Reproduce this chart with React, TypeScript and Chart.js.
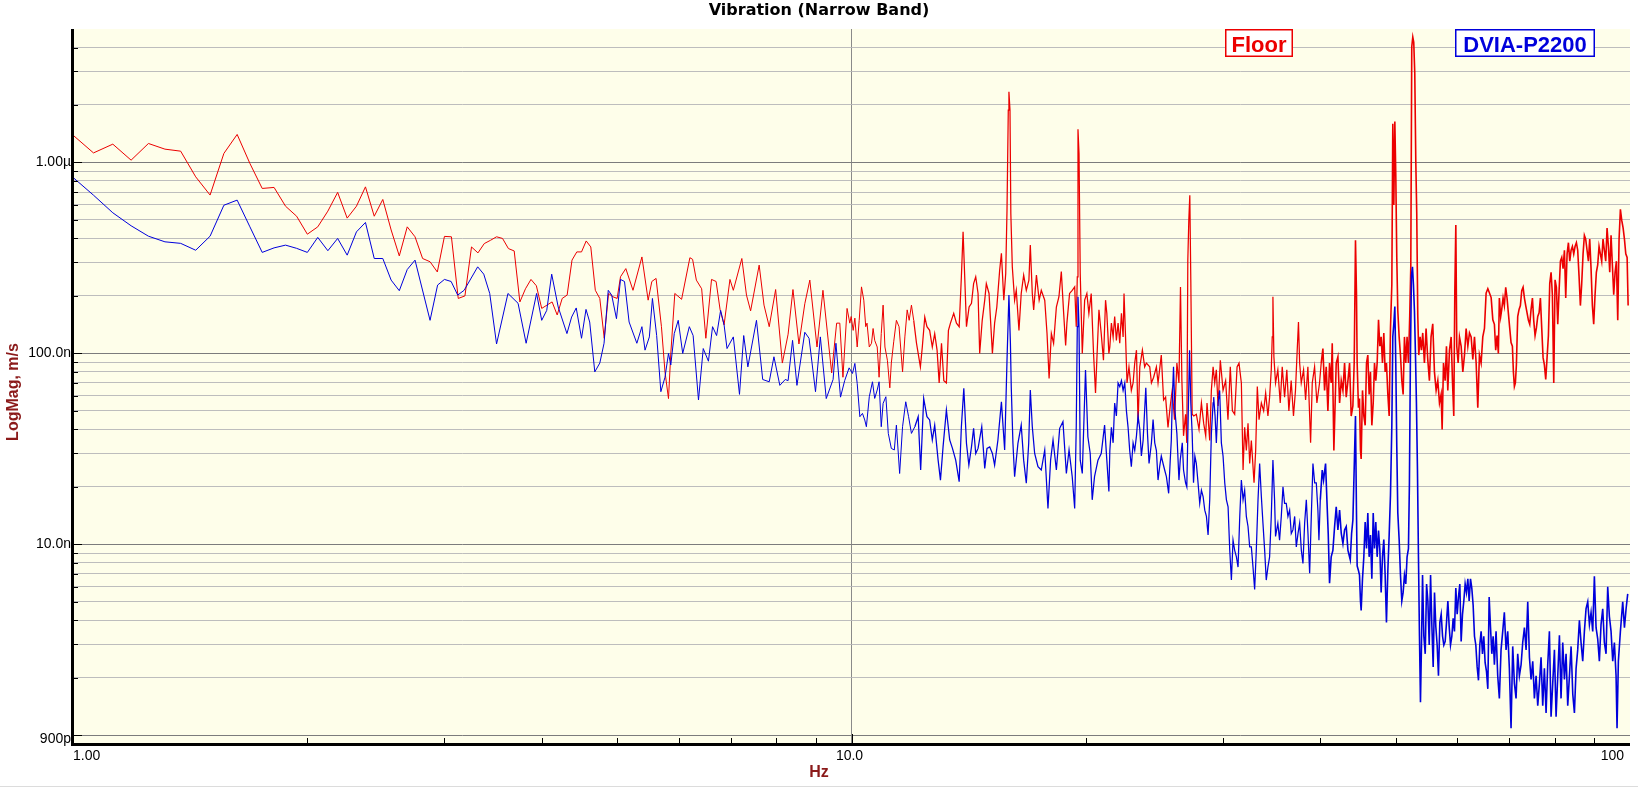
import { useEffect, useRef } from 'react';
import { Chart, registerables } from 'chart.js';

Chart.register(...registerables);

// Floor spectrum: frequency (Hz) and magnitude (nm/s)
const floorHz = [
  1.0, 1.0625, 1.125, 1.1875, 1.25, 1.3125, 1.375, 1.4375, 1.5, 1.5625,
  1.625, 1.6875, 1.75, 1.8125, 1.875, 1.9375, 2.0, 2.0625, 2.125, 2.1875,
  2.25, 2.3125, 2.375, 2.4375, 2.5, 2.5625, 2.625, 2.6875, 2.75, 2.8125,
  2.875, 2.9375, 3.0, 3.0625, 3.125, 3.1875, 3.25, 3.3125, 3.375, 3.4375,
  3.5, 3.5625, 3.625, 3.6875, 3.75, 3.8125, 3.875, 3.9375, 4.0, 4.0625,
  4.125, 4.1875, 4.25, 4.3125, 4.375, 4.4375, 4.5, 4.5625, 4.625, 4.6875,
  4.75, 4.8125, 4.875, 4.9375, 5.0, 5.05, 5.13, 5.24, 5.38, 5.48,
  5.54, 5.61, 5.7, 5.76, 5.82, 5.86, 5.93, 6.05, 6.2, 6.25,
  6.32, 6.42, 6.5, 6.61, 6.7, 6.78, 6.86, 6.98, 7.05, 7.23,
  7.33, 7.42, 7.61, 7.72, 7.84, 7.99, 8.15, 8.29, 8.41, 8.56,
  8.71, 8.84, 9.03, 9.19, 9.43, 9.57, 9.66, 9.75, 9.87, 9.95,
  9.99, 10.05, 10.1, 10.17, 10.23, 10.3, 10.37, 10.43, 10.47, 10.54,
  10.61, 10.66, 10.71, 10.79, 10.85, 10.92, 10.98, 11.04, 11.12, 11.2,
  11.25, 11.33, 11.42, 11.51, 11.63, 11.71, 11.79, 11.86, 11.94, 12.02,
  12.12, 12.26, 12.33, 12.42, 12.5, 12.6, 12.7, 12.79, 12.88, 12.96,
  13.05, 13.14, 13.24, 13.32, 13.4, 13.53, 13.64, 13.75, 13.84, 13.91,
  13.98, 14.05, 14.16, 14.26, 14.35, 14.44, 14.54, 14.61, 14.72, 14.83,
  14.9, 15.02, 15.17, 15.27, 15.37, 15.5, 15.58, 15.69, 15.78, 15.84,
  15.9, 15.93, 15.98, 16.02, 16.09, 16.2, 16.28, 16.41, 16.52, 16.64,
  16.77, 16.9, 16.97, 17.07, 17.14, 17.28, 17.42, 17.53, 17.71, 17.83,
  17.94, 18.06, 18.18, 18.33, 18.47, 18.6, 18.73, 18.84, 18.91, 19.06,
  19.21, 19.35, 19.44, 19.5, 19.54, 19.6, 19.67, 19.79, 19.93, 20.06,
  20.18, 20.32, 20.46, 20.58, 20.66, 20.79, 20.93, 21.07, 21.2, 21.28,
  21.41, 21.47, 21.57, 21.68, 21.78, 21.89, 22.0, 22.11, 22.22, 22.33,
  22.39, 22.5, 22.59, 22.72, 22.88, 23.0, 23.11, 23.23, 23.34, 23.46,
  23.64, 23.8, 23.92, 24.16, 24.28, 24.44, 24.64, 24.76, 25.0, 25.17,
  25.32, 25.5, 25.67, 25.82, 26.0, 26.18, 26.34, 26.46, 26.57, 26.7,
  26.86, 26.96, 27.04, 27.12, 27.2, 27.28, 27.39, 27.52, 27.73, 27.95,
  28.15, 28.34, 28.51, 28.62, 28.85, 28.99, 29.14, 29.28, 29.42, 29.57,
  29.77, 30.01, 30.24, 30.45, 30.66, 30.85, 31.06, 31.28, 31.46, 31.68,
  31.84, 31.99, 32.15, 32.31, 32.47, 32.63, 32.89, 33.05, 33.21, 33.38,
  33.61, 33.84, 34.04, 34.27, 34.44, 34.61, 34.71, 34.78, 34.88, 35.05,
  35.29, 35.54, 35.75, 36.0, 36.24, 36.46, 36.71, 36.96, 37.18, 37.37,
  37.51, 37.64, 37.82, 38.08, 38.31, 38.57, 38.88, 39.07, 39.34, 39.61,
  39.92, 40.12, 40.32, 40.52, 40.72, 40.92, 41.12, 41.32, 41.45, 41.65,
  41.94, 42.15, 42.36, 42.57, 42.78, 42.99, 43.2, 43.42, 43.63, 43.84,
  44.06, 44.23, 44.4, 44.53, 44.62, 44.79, 44.93, 45.06, 45.15, 45.33,
  45.51, 45.69, 45.87, 46.05, 46.23, 46.41, 46.6, 46.79, 46.97, 47.15,
  47.34, 47.53, 47.71, 47.9, 48.09, 48.28, 48.47, 48.66, 48.86, 49.05,
  49.24, 49.44, 49.58, 49.73, 49.88, 50.02, 50.17, 50.32, 50.52, 50.72,
  50.92, 51.12, 51.32, 51.52, 51.72, 51.93, 52.13, 52.29, 52.44, 52.6,
  52.75, 52.91, 53.07, 53.22, 53.38, 53.54, 53.75, 53.96, 54.17, 54.44,
  54.71, 54.98, 55.25, 55.52, 55.8, 56.08, 56.36, 56.64, 56.92, 57.2,
  57.37, 57.6, 57.88, 58.11, 58.34, 58.63, 58.92, 59.15, 59.38, 59.56,
  59.74, 59.91, 60.15, 60.39, 60.69, 60.99, 61.29, 61.59, 61.9, 62.2,
  62.51, 62.82, 63.13, 63.44, 63.75, 64.06, 64.38, 64.7, 65.02, 65.34,
  65.67, 65.99, 66.32, 66.65, 66.96, 67.22, 67.49, 67.75, 67.95, 68.22,
  68.43, 68.7, 68.96, 69.24, 69.51, 69.78, 70.06, 70.34, 70.62, 70.83,
  71.04, 71.25, 71.46, 71.74, 72.03, 72.31, 72.6, 72.89, 73.18, 73.46,
  73.75, 74.05, 74.34, 74.63, 74.93, 75.22, 75.52, 75.82, 76.12, 76.42,
  76.72, 77.02, 77.33, 77.63, 77.94, 78.25, 78.56, 78.87, 79.18, 79.49,
  79.81, 80.12, 80.44, 80.76, 81.08, 81.4, 81.72, 82.04, 82.37, 82.69,
  83.02, 83.35, 83.68, 84.01, 84.34, 84.67, 85.0, 85.34, 85.67, 86.01,
  86.35, 86.69, 87.04, 87.38, 87.72, 88.07, 88.42, 88.77, 89.12, 89.47,
  89.82, 90.18, 90.53, 90.89, 91.25, 91.61, 91.97, 92.33, 92.7, 93.07,
  93.44, 93.81, 94.18, 94.55, 94.92, 95.3, 95.68, 96.06, 96.44, 96.82,
  97.2, 97.59, 97.98, 98.37, 98.76, 99.15, 99.45,
];
const floorNm = [
  1390, 1122, 1247, 1028, 1257, 1174, 1146, 841, 675, 1115,
  1402, 988, 731, 740, 590, 523, 421, 460, 556, 697,
  511, 590, 745, 523, 640, 443, 324, 460, 408, 314,
  302, 267, 410, 408, 194, 200, 361, 336, 376, 391,
  408, 400, 354, 344, 186, 218, 244, 226, 172, 179,
  186, 159, 194, 202, 308, 340, 340, 388, 361, 214,
  194, 120, 206, 198, 194, 252, 278, 214, 320, 190,
  238, 247, 138, 80, 58, 100, 206, 192, 317, 311,
  242, 218, 120, 244, 238, 169, 141, 244, 214, 314,
  202, 167, 290, 179, 138, 216, 89, 126, 216, 112,
  182, 242, 108, 214, 79, 144, 144, 75, 172, 144,
  156, 132, 153, 108, 149, 223, 190, 138, 144, 108,
  113, 135, 117, 108, 75, 127, 179, 108, 92, 66,
  89, 115, 149, 138, 80, 122, 169, 149, 179, 149,
  113, 85, 108, 155, 138, 132, 108, 127, 104, 70,
  113, 72, 70, 132, 144, 162, 144, 138, 252, 433,
  247, 138, 175, 183, 232, 252, 206, 100, 149, 190,
  232, 206, 100, 144, 175, 273, 334, 190, 262, 563,
  1878, 2343, 1878, 540, 284, 190, 214, 132, 206, 257,
  214, 242, 369, 206, 169, 257, 190, 214, 190, 127,
  74, 127, 113, 175, 198, 268, 162, 110, 144, 206,
  214, 223, 138, 252, 1494, 1114, 262, 100, 190, 206,
  162, 206, 100, 62, 92, 169, 127, 92, 190, 162,
  100, 108, 144, 122, 156, 117, 144, 113, 162, 122,
  206, 117, 70, 85, 64, 70, 89, 104, 43, 85,
  104, 85, 89, 85, 70, 75, 85, 70, 98, 57,
  59, 41, 53, 64, 45, 89, 70, 223, 72, 37,
  48, 34, 308, 499, 674, 242, 48, 47, 48, 40,
  55, 43, 37, 55, 35, 64, 85, 70, 82, 53,
  92, 64, 72, 45, 85, 50, 48, 85, 89, 70,
  24.5, 41, 31, 43, 26.5, 35, 21, 31, 67, 45,
  55, 50, 62, 47, 59, 82, 122, 198, 96, 70,
  82, 55, 85, 59, 82, 50, 72, 47, 64, 104,
  146, 89, 70, 82, 57, 85, 34, 70, 85, 55,
  70, 89, 106, 64, 85, 50, 89, 70, 113, 31,
  89, 96, 55, 72, 64, 89, 59, 72, 89, 47,
  53, 89, 391, 207, 89, 52, 58, 31, 28, 64,
  47, 42, 89, 98, 61, 80, 42, 55, 89, 72,
  89, 150, 109, 122, 89, 128, 80, 89, 61, 47,
  135, 230, 1594, 598, 1637, 866, 316, 167, 122, 98,
  72, 61, 122, 89, 122, 89, 159, 284, 4035, 4533,
  4254, 2935, 1016, 538, 159, 98, 122, 104, 128, 89,
  135, 93, 72, 122, 143, 80, 64, 72, 55, 61,
  40, 89, 72, 109, 64, 104, 122, 72, 47, 207,
  471, 109, 89, 122, 109, 80, 98, 135, 109, 128,
  122, 93, 122, 89, 52, 98, 89, 122, 135, 207,
  218, 207, 196, 150, 142, 104, 124, 100, 195, 156,
  170, 195, 178, 222, 195, 163, 136, 114, 109, 80,
  67, 70, 87, 156, 170, 178, 213, 222, 195, 178,
  163, 149, 142, 170, 195, 149, 124, 136, 156, 163,
  195, 136, 95, 87, 73, 95, 124, 232, 266, 203,
  70, 243, 222, 142, 213, 304, 318, 278, 347, 195,
  332, 380, 304, 347, 363, 332, 363, 380, 347, 254,
  178, 232, 332, 415, 397, 347, 304, 397, 278, 178,
  142, 203, 266, 291, 363, 332, 304, 397, 347, 304,
  454, 363, 266, 415, 291, 203, 266, 304, 149, 397,
  568, 497, 454, 397, 332, 318, 178,
];

// DVIA-P2200 spectrum: frequency (Hz) and magnitude (nm/s)
const dviaHz = [
  1.0, 1.0625, 1.125, 1.1875, 1.25, 1.3125, 1.375, 1.4375, 1.5, 1.5625,
  1.625, 1.6875, 1.75, 1.8125, 1.875, 1.9375, 2.0, 2.0625, 2.125, 2.1875,
  2.25, 2.3125, 2.375, 2.4375, 2.5, 2.5625, 2.625, 2.6875, 2.75, 2.875,
  2.94, 3.0, 3.06, 3.12, 3.18, 3.31, 3.37, 3.43, 3.5, 3.62,
  3.73, 3.82, 3.94, 4.0, 4.06, 4.12, 4.2, 4.31, 4.37, 4.43,
  4.5, 4.56, 4.61, 4.68, 4.75, 4.81, 4.87, 4.92, 4.99, 5.05,
  5.11, 5.18, 5.3, 5.38, 5.43, 5.5, 5.55, 5.62, 5.69, 5.76,
  5.82, 5.86, 5.92, 5.99, 6.07, 6.19, 6.26, 6.36, 6.45, 6.55,
  6.63, 6.71, 6.79, 6.86, 6.92, 7.05, 7.18, 7.27, 7.36, 7.55,
  7.69, 7.84, 7.95, 8.09, 8.22, 8.29, 8.4, 8.51, 8.71, 8.82,
  8.99, 9.12, 9.28, 9.47, 9.55, 9.68, 9.8, 9.93, 10.03, 10.1,
  10.17, 10.25, 10.33, 10.4, 10.45, 10.54, 10.64, 10.71, 10.79, 10.85,
  10.92, 10.98, 11.07, 11.15, 11.25, 11.35, 11.42, 11.53, 11.63, 11.74,
  11.84, 11.94, 12.06, 12.18, 12.27, 12.38, 12.5, 12.6, 12.7, 12.79,
  12.92, 13.01, 13.11, 13.24, 13.37, 13.48, 13.61, 13.75, 13.84, 13.94,
  14.05, 14.15, 14.26, 14.35, 14.44, 14.54, 14.7, 14.83, 14.93, 15.05,
  15.17, 15.27, 15.42, 15.58, 15.73, 15.84, 15.93, 16.0, 16.04, 16.12,
  16.2, 16.36, 16.52, 16.64, 16.77, 16.89, 16.97, 17.07, 17.19, 17.36,
  17.53, 17.71, 17.88, 18.02, 18.15, 18.33, 18.51, 18.69, 18.88, 19.03,
  19.21, 19.35, 19.44, 19.5, 19.54, 19.6, 19.67, 19.79, 19.98, 20.12,
  20.26, 20.38, 20.52, 20.73, 20.93, 21.14, 21.28, 21.41, 21.47, 21.57,
  21.68, 21.78, 21.89, 22.0, 22.11, 22.22, 22.33, 22.44, 22.55, 22.66,
  22.77, 22.88, 23.0, 23.11, 23.23, 23.34, 23.46, 23.57, 23.69, 23.88,
  24.0, 24.11, 24.28, 24.4, 24.52, 24.64, 24.76, 24.88, 25.0, 25.13,
  25.25, 25.38, 25.55, 25.67, 25.75, 25.82, 25.92, 26.03, 26.18, 26.34,
  26.44, 26.6, 26.7, 26.86, 26.96, 27.07, 27.18, 27.28, 27.39, 27.5,
  27.61, 27.73, 27.87, 28.01, 28.15, 28.29, 28.43, 28.57, 28.71, 28.85,
  28.99, 29.14, 29.19, 29.31, 29.42, 29.57, 29.71, 29.86, 30.01, 30.16,
  30.31, 30.46, 30.61, 30.76, 30.91, 31.06, 31.22, 31.37, 31.53, 31.68,
  31.84, 31.99, 32.15, 32.31, 32.47, 32.63, 32.79, 32.95, 33.11, 33.28,
  33.44, 33.61, 33.77, 33.94, 34.1, 34.27, 34.44, 34.61, 34.78, 34.95,
  35.05, 35.29, 35.47, 35.65, 35.83, 36.0, 36.18, 36.36, 36.54, 36.72,
  36.9, 37.09, 37.27, 37.46, 37.64, 37.83, 38.01, 38.2, 38.39, 38.58,
  38.77, 38.96, 39.15, 39.35, 39.54, 39.73, 39.85, 40.01, 40.24, 40.4,
  40.64, 40.8, 40.96, 41.12, 41.32, 41.53, 41.74, 41.94, 42.15, 42.36,
  42.57, 42.78, 42.99, 43.2, 43.42, 43.72, 43.89, 44.06, 44.27, 44.4,
  44.53, 44.62, 44.79, 44.93, 45.06, 45.15, 45.33, 45.51, 45.69, 45.87,
  46.05, 46.23, 46.41, 46.6, 46.79, 46.97, 47.15, 47.34, 47.53, 47.71,
  47.9, 48.09, 48.28, 48.47, 48.66, 48.86, 49.05, 49.24, 49.44, 49.58,
  49.73, 49.88, 50.02, 50.17, 50.32, 50.52, 50.72, 50.92, 51.12, 51.32,
  51.52, 51.72, 51.93, 52.08, 52.23, 52.39, 52.55, 52.7, 52.86, 53.02,
  53.17, 53.33, 53.49, 53.65, 53.81, 53.97, 54.14, 54.35, 54.57, 54.79,
  55.0, 55.22, 55.44, 55.66, 55.87, 56.09, 56.31, 56.53, 56.75, 56.98,
  57.21, 57.44, 57.66, 57.89, 58.12, 58.35, 58.58, 58.81, 59.04, 59.27,
  59.5, 59.74, 59.98, 60.21, 60.45, 60.69, 60.93, 61.17, 61.41, 61.65,
  61.9, 62.14, 62.39, 62.63, 62.88, 63.13, 63.38, 63.63, 63.88, 64.13,
  64.38, 64.64, 64.89, 65.15, 65.41, 65.67, 65.93, 66.19, 66.45, 66.71,
  66.96, 67.29, 67.62, 67.95, 68.29, 68.63, 68.96, 69.31, 69.65, 69.99,
  70.34, 70.69, 71.04, 71.39, 71.74, 72.1, 72.46, 72.81, 73.18, 73.54,
  73.9, 74.27, 74.63, 75.0, 75.37, 75.75, 76.12, 76.5, 76.87, 77.25,
  77.63, 78.02, 78.4, 78.79, 79.18, 79.57, 79.97, 80.36, 80.76, 81.16,
  81.55, 81.96, 82.37, 82.77, 83.18, 83.6, 84.01, 84.43, 84.84, 85.26,
  85.67, 86.1, 86.52, 86.95, 87.38, 87.81, 88.25, 88.69, 89.12, 89.56,
  90.0, 90.45, 90.89, 91.34, 91.79, 92.25, 92.7, 93.16, 93.62, 94.08,
  94.55, 95.02, 95.49, 95.96, 96.24, 96.62, 97.2, 97.87, 98.37, 98.85,
  99.33,
];
const dviaNm = [
  835, 674, 545, 466, 411, 384, 377, 347, 411, 597,
  635, 460, 338, 357, 369, 355, 338, 405, 345, 400,
  327, 433, 485, 314, 314, 242, 213, 275, 308, 149,
  228, 244, 238, 202, 214, 284, 260, 206, 112, 206,
  183, 113, 206, 149, 168, 260, 175, 127, 155, 173,
  120, 170, 146, 80, 89, 113, 214, 202, 152, 244,
  238, 146, 113, 138, 104, 122, 194, 124, 63, 75,
  100, 87, 127, 149, 100, 138, 124, 57, 106, 91,
  138, 124, 168, 141, 106, 122, 61, 124, 85, 149,
  73, 71, 96, 68, 73, 72, 117, 68, 129, 120,
  63, 122, 58, 73, 113, 59, 72, 84, 78.5, 88.6,
  69.6, 46.6, 48.5, 44.8, 41.3, 59.3, 71, 58.1, 64.3, 71,
  41.3, 54.7, 59.3, 38.1, 31.8, 31.2, 42.1, 23.5, 41.3, 55.8,
  46.6, 38.1, 41.3, 46.6, 24.5, 58.1, 46.6, 44.8, 35.2, 42.1,
  27.6, 21.7, 32.4, 50.5, 35.2, 31.8, 27.6, 21.3, 41.3, 65.6,
  33.8, 26, 32.4, 40.5, 29.9, 31.8, 41.3, 25, 31.8, 32.4,
  29.9, 26, 35.2, 55.8, 31.2, 92, 202, 113, 66.9, 33.8,
  22.6, 33.8, 42.1, 27.6, 20.9, 33.8, 64.3, 41.3, 29.9, 25.5,
  24.5, 31.2, 15.4, 27.6, 35.2, 24.5, 40.5, 43.9, 23.5, 31.2,
  22.6, 15.4, 41.3, 138, 198, 138, 27.6, 23.5, 81.8, 36.6,
  29.9, 17.1, 22.6, 27.6, 29.9, 42.1, 27.6, 18.9, 31, 41,
  34, 55, 47, 70, 67, 72, 64, 70, 50, 41,
  31, 25.5, 34, 31, 37, 47, 40, 29, 35, 66,
  38, 26.5, 34, 45, 34, 31, 21.7, 25.5, 29, 26.5,
  24.5, 22.6, 18.5, 27.6, 35, 55, 85, 50, 38, 21.7,
  27.6, 34, 24.5, 21, 20, 47, 104, 55, 38, 21,
  29, 26.5, 21, 16.4, 19.2, 17.8, 15.1, 14, 11.2, 17.1,
  38, 55, 59, 47, 34, 55, 64, 34, 29, 21,
  17.1, 15.7, 9.3, 6.5, 10.5, 9.3, 8.6, 7.6, 14, 21.7,
  17.1, 19.2, 14, 12.4, 9.7, 9.7, 7.6, 5.8, 9.3, 17.1,
  26.5, 17.8, 12.9, 9.3, 6.5, 7.6, 8.6, 14, 27.6, 17.1,
  11, 12.9, 10.5, 14, 20, 16.4, 16.4, 14, 15.1, 11.4,
  11.9, 14, 9.7, 11.4, 12.9, 9.3, 7.95, 12.9, 17.1, 11.4,
  7.05, 14, 26.5, 21, 21, 15.1, 10.5, 17.1, 24.5, 21.7,
  26.5, 17.1, 11.4, 6.25, 8.6, 9.3, 12.4, 15.7, 11.9, 15.1,
  11.4, 10.1, 11.9, 12.4, 9.3, 8.3, 11.4, 13.4, 29, 47,
  14.6, 7.7, 7.3, 6.9, 5.05, 4.5, 6.6, 8.6, 13.1, 9.5,
  14.6, 8.6, 11.2, 6.6, 14.6, 9.5, 13.1, 8.6, 11.8, 9.5,
  5.6, 8.6, 10.6, 6.9, 3.9, 7.3, 11.2, 18, 42, 122,
  143, 176, 88.6, 32.3, 14.6, 10.6, 6.9, 5.05, 5.6, 6.9,
  6.2, 8.6, 9.5, 21.1, 93, 256, 284, 230, 167, 98,
  54.9, 24.8, 8.6, 3.3, 1.49, 2.97, 6.9, 3.3, 2.67, 6.2,
  5.05, 2.97, 6.9, 3.7, 2.28, 5.6, 3.7, 2.97, 2.05, 3.9,
  4.3, 3.3, 2.97, 3.1, 3.9, 5.05, 3.7, 2.97, 3.3, 4.1,
  3.5, 5.9, 4.3, 5.3, 6.2, 3.1, 4.3, 5.05, 6.2, 5.6,
  6.6, 5.05, 6.6, 5.9, 4.8, 3.3, 2.97, 2.28, 1.94, 2.97,
  3.5, 2.67, 3.3, 2.4, 2.16, 1.75, 5.3, 3.7, 2.67, 3.3,
  2.34, 3.5, 2.05, 1.56, 2.8, 3.5, 4.4, 2.8, 3.5, 2.24,
  1.09, 2.92, 1.87, 1.56, 2.67, 2.05, 2.34, 3.06, 3.66, 2.8,
  5.0, 2.56, 1.96, 2.44, 1.56, 2.05, 1.43, 1.87, 2.56, 1.43,
  2.24, 1.31, 2.34, 3.5, 1.25, 1.87, 2.8, 1.25, 2.05, 3.34,
  1.56, 3.06, 1.96, 2.67, 1.43, 2.05, 2.92, 1.64, 1.31, 2.24,
  2.8, 4.0, 3.06, 2.44, 3.5, 4.6, 5.0, 3.8, 4.4, 3.5,
  6.8, 3.66, 3.2, 2.44, 3.8, 4.6, 3.06, 2.67, 6.0, 4.2,
  3.5, 2.44, 3.06, 2.05, 1.09, 2.44, 3.5, 5.0, 3.66, 4.6,
  5.5,
];

// Axis structure (values in Hz and nm/s)
const xGridHz = [1, 2, 3, 4, 5, 6, 7, 8, 9, 10, 20, 30, 40, 50, 60, 70, 80, 90, 100];
const xLabelHz = [1, 10, 100];
const xLabelText = ['1.00', '10.0', '100'];
const yGridNm = [
  0.9, 1, 2, 3, 4, 5, 6, 7, 8, 9,
  10, 20, 30, 40, 50, 60, 70, 80, 90,
  100, 200, 300, 400, 500, 600, 700, 800, 900,
  1000, 2000, 3000, 4000,
];
const yMajorNm = [1, 10, 100, 1000];
const yLabelNm = [0.9, 10, 100, 1000];
const yLabelText = ['900p', '10.0n', '100.0n', '1.00µ'];

const SANS = '"Liberation Sans", Arial, sans-serif';
const PLOT_BG = '#fefeea';
const FLOOR_COLOR = '#ec0000';
const DVIA_COLOR = '#0000dc';
const AXIS_TITLE_COLOR = '#8b1a1a';

// the reference trace is sampled twice per pixel at high frequency, so it reads as a band
const traceWidth = (ctx: any) => {
  const f = ctx.p0.parsed.x;
  if (f > 40) return 1.6;
  if (f > 12) return 1.25;
  return 1;
};

const chromePlugin = {
  id: 'chrome',
  beforeDraw(chart: any) {
    const { ctx, chartArea, width, height } = chart;
    ctx.save();
    ctx.fillStyle = '#ffffff';
    ctx.fillRect(0, 0, width, height);
    ctx.fillStyle = PLOT_BG;
    ctx.fillRect(chartArea.left, chartArea.top, chartArea.right - chartArea.left, chartArea.bottom - chartArea.top);
    ctx.restore();
  },
  afterDraw(chart: any) {
    const { ctx, chartArea, width } = chart;
    const xs = chart.scales.x;
    const ys = chart.scales.y;
    ctx.save();

    // axis lines
    ctx.fillStyle = '#000';
    ctx.fillRect(chartArea.left - 2, chartArea.top, 3, chartArea.bottom - chartArea.top + 2);
    ctx.fillRect(chartArea.left - 2, chartArea.bottom - 1, chartArea.right - chartArea.left + 2, 3);

    // inward tick marks
    ctx.strokeStyle = '#000';
    ctx.lineWidth = 1;
    ctx.beginPath();
    yGridNm.forEach((v) => {
      if (v < 1) return;
      const py = Math.round(ys.getPixelForValue(v)) + 0.5;
      const len = yMajorNm.includes(v) ? 9 : 5;
      ctx.moveTo(chartArea.left, py);
      ctx.lineTo(chartArea.left + len, py);
    });
    xGridHz.forEach((v) => {
      if (v <= 1 || v >= 100) return;
      const px = Math.round(xs.getPixelForValue(v)) + 0.5;
      const len = v === 10 ? 9 : 5;
      ctx.moveTo(px, chartArea.bottom - 1);
      ctx.lineTo(px, chartArea.bottom - 1 - len);
    });
    ctx.stroke();

    // tick labels
    ctx.fillStyle = '#000';
    ctx.font = `14px ${SANS}`;
    ctx.textBaseline = 'middle';
    ctx.textAlign = 'right';
    yLabelNm.forEach((v, i) => {
      const py = Math.min(ys.getPixelForValue(v), chartArea.bottom - 5);
      ctx.fillText(yLabelText[i], chartArea.left - 2, py);
    });
    xLabelHz.forEach((v, i) => {
      const px = xs.getPixelForValue(v);
      if (i === 0) {
        ctx.textAlign = 'left';
        ctx.fillText(xLabelText[i], px, 756);
      } else if (i === xLabelHz.length - 1) {
        ctx.textAlign = 'right';
        ctx.fillText(xLabelText[i], px - 6, 756);
      } else {
        ctx.textAlign = 'center';
        ctx.fillText(xLabelText[i], px - 2, 756);
      }
    });

    // title
    ctx.fillStyle = '#000';
    ctx.font = 'bold 16px "DejaVu Sans", Verdana, sans-serif';
    ctx.textAlign = 'center';
    ctx.textBaseline = 'middle';
    ctx.fillText('Vibration (Narrow Band)', width / 2, 11);

    // axis titles
    ctx.fillStyle = AXIS_TITLE_COLOR;
    ctx.font = `bold 16px ${SANS}`;
    ctx.fillText('Hz', width / 2, 773);
    ctx.save();
    ctx.translate(14, 392);
    ctx.rotate(-Math.PI / 2);
    ctx.fillText('LogMag, m/s', 0, 0);
    ctx.restore();

    // series tags
    const tag = (text: string, color: string, x: number, w: number) => {
      ctx.fillStyle = '#ffffff';
      ctx.fillRect(x, 29, w, 28);
      ctx.strokeStyle = color;
      ctx.lineWidth = 1.5;
      ctx.strokeRect(x + 0.75, 29.75, w - 1.5, 26.5);
      ctx.fillStyle = color;
      ctx.font = `bold 22px ${SANS}`;
      ctx.textAlign = 'center';
      ctx.textBaseline = 'alphabetic';
      ctx.fillText(text, x + w / 2, 51.5);
    };
    tag(chart.data.datasets[0].label, FLOOR_COLOR, 1225, 68);
    tag(chart.data.datasets[1].label, DVIA_COLOR, 1455, 140);

    // faint frame line at the bottom
    ctx.fillStyle = '#dcdcdc';
    ctx.fillRect(0, 786, width, 1);
    ctx.restore();
  },
};

const toPoints = (hz: number[], nm: number[]) => hz.map((f, i) => ({ x: f, y: nm[i] }));

const App = () => {
  const canvasRef = useRef<HTMLCanvasElement>(null);

  useEffect(() => {
    const canvas = canvasRef.current;
    if (!canvas) return;

    const chart = new Chart(canvas, {
      type: 'line',
      data: {
        datasets: [
          {
            label: 'Floor',
            data: toPoints(floorHz, floorNm),
            borderColor: FLOOR_COLOR,
            borderWidth: 1,
            segment: { borderWidth: traceWidth },
            pointRadius: 0,
            tension: 0,
            order: 1,
          },
          {
            label: 'DVIA-P2200',
            data: toPoints(dviaHz, dviaNm),
            borderColor: DVIA_COLOR,
            borderWidth: 1,
            segment: { borderWidth: traceWidth },
            pointRadius: 0,
            tension: 0,
            order: 0,
          },
        ],
      },
      options: {
        animation: false,
        responsive: true,
        maintainAspectRatio: false,
        events: [],
        parsing: false,
        layout: { padding: { top: 29, right: 8, bottom: 0, left: 0 } },
        plugins: {
          legend: { display: false },
          tooltip: { enabled: false },
          title: { display: false },
        },
        scales: {
          x: {
            type: 'logarithmic',
            min: 1,
            max: 100,
            afterBuildTicks: (s: any) => {
              s.ticks = xGridHz.map((v) => ({ value: v }));
            },
            afterFit: (s: any) => {
              s.height = 44;
            },
            border: { display: false },
            grid: {
              drawTicks: false,
              lineWidth: 1,
              color: (c: any) => (c.tick && c.tick.value === 10 ? '#8a8a8a' : 'rgba(0,0,0,0)'),
            },
            ticks: { display: false, autoSkip: false },
          },
          y: {
            type: 'logarithmic',
            min: 0.9,
            max: 5000,
            afterBuildTicks: (s: any) => {
              s.ticks = yGridNm.map((v) => ({ value: v }));
            },
            afterFit: (s: any) => {
              s.width = 73;
            },
            border: { display: false },
            grid: {
              drawTicks: false,
              lineWidth: 1,
              color: (c: any) => (c.tick && yMajorNm.includes(c.tick.value) ? '#7c7c7c' : '#bdbdbd'),
            },
            ticks: { display: false, autoSkip: false },
          },
        },
      },
      plugins: [chromePlugin],
    } as any);

    return () => {
      chart.destroy();
    };
  }, []);

  return (
    <div style={{ position: 'absolute', left: 0, top: 0, width: '1638px', height: '788px' }}>
      <canvas ref={canvasRef}></canvas>
    </div>
  );
};

export default App;
